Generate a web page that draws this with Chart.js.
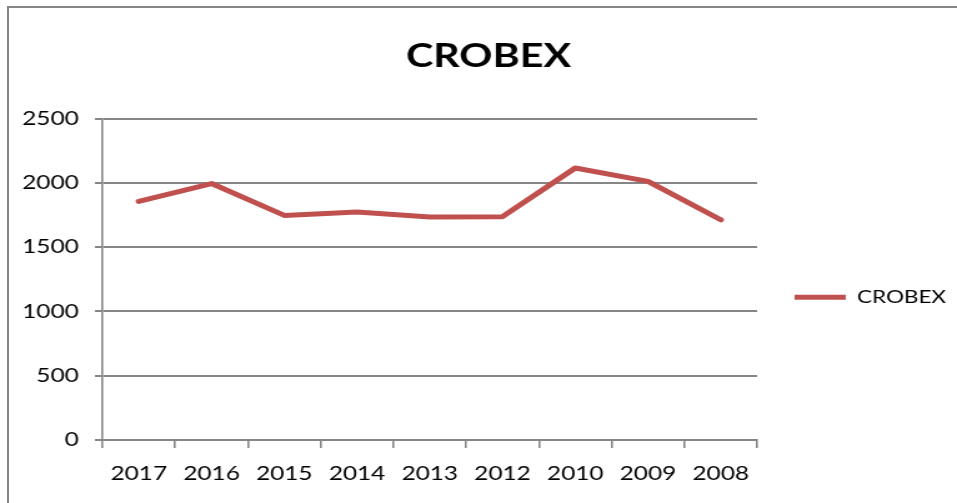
<!DOCTYPE html>
<html>
<head>
<meta charset="utf-8">
<script src="https://cdn.jsdelivr.net/npm/chart.js@4/dist/chart.umd.min.js"></script>
<style>
  html, body { margin: 0; padding: 0; background: #fff; overflow: hidden; }
  #frame { position: absolute; left: 7px; top: 6px; width: 960px; height: 510px;
           border-left: 2px solid #868686; border-top: 2px solid #868686; box-sizing: border-box; }
  #wrap { position: absolute; left: 0; top: 0; width: 766px; height: 503px;
          transform: scaleX(1.2493); transform-origin: 0 0; }
</style>
</head>
<body>
<div id="frame"></div>
<div id="wrap"><canvas id="c" width="766" height="503"></canvas></div>
<script>
const categories = ['2017', '2016', '2015', '2014', '2013', '2012', '2010', '2009', '2008'];
const crobexValues = [1856, 1995, 1747, 1773, 1735, 1737, 2116, 2012, 1713];
const seriesName = 'CROBEX';
const chartTitle = 'CROBEX';
const yTicks = [0, 500, 1000, 1500, 2000, 2500];

const FONT = 'Lato';
const GRID = '#868686';

new Chart(document.getElementById('c'), {
  type: 'line',
  data: {
    labels: categories,
    datasets: [{
      label: seriesName,
      data: crobexValues,
      borderColor: '#C0504D',
      backgroundColor: '#C0504D',
      borderWidth: 5,
      borderCapStyle: 'round',
      borderJoinStyle: 'round',
      pointRadius: 0,
      pointHoverRadius: 0,
      tension: 0,
      fill: false
    }]
  },
  options: {
    responsive: false,
    animation: false,
    devicePixelRatio: 1,
    layout: { padding: { left: 16, top: 0, right: 0, bottom: 0 } },
    plugins: {
      title: {
        display: true,
        text: chartTitle,
        color: '#000',
        font: { family: FONT, size: 33, weight: 'bold' },
        padding: { top: 37, bottom: 42 }
      },
      legend: {
        position: 'right',
        fullSize: false,
        maxWidth: 160,
        title: { display: true, text: ' ', font: { family: FONT, size: 30 }, padding: 0 },
        labels: {
          usePointStyle: true,
          pointStyle: 'line',
          pointStyleWidth: 41,
          padding: 30,
          color: '#000',
          font: { family: FONT, size: 18 }
        }
      },
      tooltip: { enabled: false }
    },
    scales: {
      x: {
        offset: true,
        afterFit: (s) => { s.height = 63; },
        grid: { offset: true, drawOnChartArea: false, drawTicks: true, tickLength: 8, color: GRID, lineWidth: 1.6 },
        border: { display: true, color: GRID, width: 2 },
        ticks: { color: '#000', font: { family: FONT, size: 19.5 }, padding: 14, maxRotation: 0, autoSkip: false }
      },
      y: {
        min: 0,
        max: 2500,
        afterFit: (s) => { s.width = 66; },
        afterBuildTicks: (s) => { s.ticks = yTicks.map(v => ({ value: v })); },
        grid: { drawOnChartArea: true, drawTicks: true, tickLength: 6, color: GRID, lineWidth: 2 },
        border: { display: true, color: GRID, width: 1.6 },
        ticks: { color: '#000', font: { family: FONT, size: 19.5 }, padding: 13,
                 callback: (v) => String(v) }
      }
    }
  }
});
</script>
</body>
</html>
